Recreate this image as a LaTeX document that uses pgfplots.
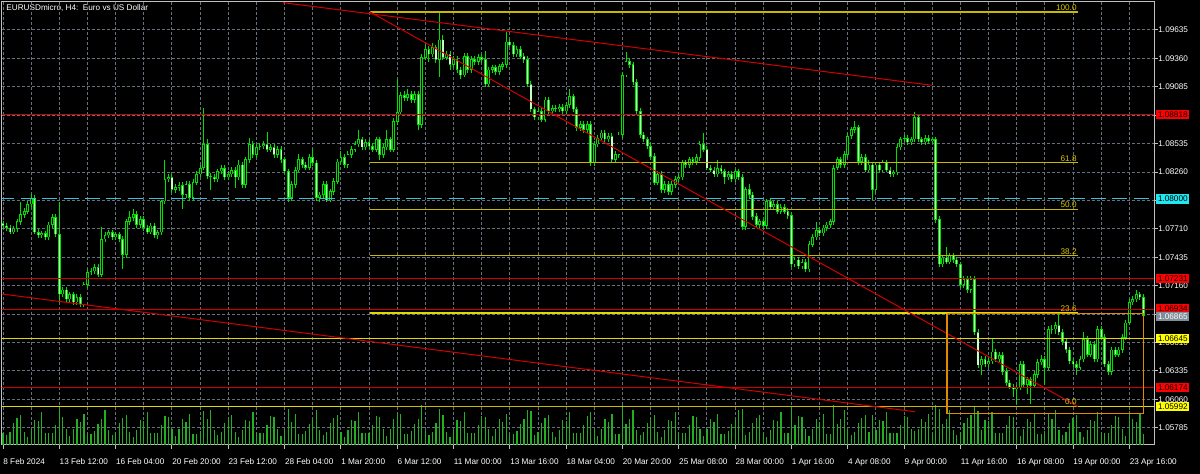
\documentclass[border=0pt]{standalone}
\usepackage{fontspec}
\setmainfont{Liberation Sans}
\usepackage{pgfplots}
\usepackage{pgfplotstable}
\pgfplotsset{compat=1.18}
\definecolor{gridc}{HTML}{66707C}
\definecolor{axc}{HTML}{C0C0C0}
\definecolor{wick}{HTML}{00E000}
\definecolor{bearf}{HTML}{C4FFC4}
\definecolor{volc}{HTML}{22B022}
\definecolor{lred}{HTML}{D00000}
\definecolor{bred}{HTML}{FF0000}
\definecolor{lcyan}{HTML}{38C0D8}
\definecolor{bcyan}{HTML}{20E8F0}
\definecolor{lyel}{HTML}{E0D800}
\definecolor{byel}{HTML}{FFFF00}
\definecolor{fibc}{HTML}{C8B800}
\definecolor{fibt}{HTML}{D8C800}
\definecolor{orng}{HTML}{E08A00}
\definecolor{bgray}{HTML}{7F8C99}
\newcommand\lab{\fontsize{4.1pt}{5pt}\selectfont}

\pgfplotstableread{
i o h l c v
0 1.0776 1.0779 1.0771 1.0774 12
1 1.0774 1.0777 1.0769 1.0772 10
2 1.0772 1.0775 1.0766 1.0768 13
3 1.0768 1.0774 1.0766 1.0771 22
4 1.0771 1.0781 1.0768 1.0778 27
5 1.0778 1.0797 1.0775 1.0785 30
6 1.0785 1.0791 1.0782 1.0788 13
7 1.0788 1.0798 1.0785 1.0795 8
8 1.0795 1.0805 1.0792 1.0801 15
9 1.0801 1.0804 1.0766 1.0768 25
10 1.0768 1.0771 1.0762 1.0765 24
11 1.0765 1.0769 1.0762 1.0767 33
12 1.0767 1.0769 1.0760 1.0763 12
13 1.0763 1.0778 1.0760 1.0775 12
14 1.0775 1.0785 1.0772 1.0782 12
15 1.0782 1.0785 1.0763 1.0766 20
16 1.0766 1.0797 1.0701 1.0708 38
17 1.0708 1.0715 1.0705 1.0712 28
18 1.0712 1.0715 1.0700 1.0703 16
19 1.0703 1.0710 1.0700 1.0708 9
20 1.0708 1.0710 1.0697 1.0700 16
21 1.0700 1.0708 1.0697 1.0705 26
22 1.0705 1.0708 1.0695 1.0698 23
23 1.0698 1.0720 1.0695 1.0717 31
24 1.0717 1.0732 1.0714 1.0729 11
25 1.0729 1.0733 1.0726 1.0730 11
26 1.0730 1.0737 1.0727 1.0734 14
27 1.0734 1.0737 1.0724 1.0727 21
28 1.0727 1.0773 1.0724 1.0761 26
29 1.0761 1.0768 1.0758 1.0765 35
30 1.0765 1.0770 1.0762 1.0768 15
31 1.0768 1.0770 1.0760 1.0763 10
32 1.0763 1.0768 1.0760 1.0766 13
33 1.0766 1.0768 1.0758 1.0761 22
34 1.0761 1.0764 1.0732 1.0746 27
35 1.0746 1.0781 1.0743 1.0778 30
36 1.0778 1.0788 1.0775 1.0782 13
37 1.0782 1.0790 1.0779 1.0785 8
38 1.0785 1.0788 1.0772 1.0775 15
39 1.0775 1.0783 1.0772 1.0780 25
40 1.0780 1.0783 1.0769 1.0772 24
41 1.0772 1.0775 1.0766 1.0768 33
42 1.0768 1.0777 1.0766 1.0774 12
43 1.0774 1.0777 1.0762 1.0765 12
44 1.0765 1.0770 1.0761 1.0768 12
45 1.0768 1.0799 1.0765 1.0798 20
46 1.0798 1.0838 1.0795 1.0819 29
47 1.0819 1.0824 1.0816 1.0821 28
48 1.0821 1.0824 1.0806 1.0809 16
49 1.0809 1.0814 1.0806 1.0811 9
50 1.0811 1.0816 1.0808 1.0813 16
51 1.0813 1.0816 1.0790 1.0804 26
52 1.0804 1.0817 1.0801 1.0814 23
53 1.0814 1.0817 1.0798 1.0801 31
54 1.0801 1.0819 1.0798 1.0816 11
55 1.0816 1.0827 1.0813 1.0824 11
56 1.0824 1.0833 1.0821 1.0830 14
57 1.0830 1.0888 1.0828 1.0853 34
58 1.0853 1.0858 1.0819 1.0822 26
59 1.0822 1.0825 1.0809 1.0821 35
60 1.0821 1.0824 1.0816 1.0819 15
61 1.0819 1.0829 1.0816 1.0827 10
62 1.0827 1.0833 1.0824 1.0830 13
63 1.0830 1.0833 1.0818 1.0821 22
64 1.0821 1.0827 1.0818 1.0824 27
65 1.0824 1.0831 1.0821 1.0828 30
66 1.0828 1.0831 1.0811 1.0821 13
67 1.0821 1.0838 1.0818 1.0833 8
68 1.0833 1.0836 1.0811 1.0814 15
69 1.0814 1.0841 1.0811 1.0838 25
70 1.0838 1.0859 1.0835 1.0853 24
71 1.0853 1.0856 1.0840 1.0843 33
72 1.0843 1.0853 1.0840 1.0850 12
73 1.0850 1.0854 1.0847 1.0851 12
74 1.0851 1.0856 1.0848 1.0853 12
75 1.0853 1.0865 1.0845 1.0848 20
76 1.0848 1.0853 1.0845 1.0850 29
77 1.0850 1.0853 1.0840 1.0843 28
78 1.0843 1.0851 1.0840 1.0848 16
79 1.0848 1.0851 1.0835 1.0838 9
80 1.0838 1.0841 1.0824 1.0827 16
81 1.0827 1.0829 1.0797 1.0801 36
82 1.0801 1.0817 1.0798 1.0814 23
83 1.0814 1.0831 1.0811 1.0828 31
84 1.0828 1.0843 1.0826 1.0838 11
85 1.0838 1.0841 1.0830 1.0833 11
86 1.0833 1.0836 1.0828 1.0830 14
87 1.0830 1.0843 1.0828 1.0840 21
88 1.0840 1.0848 1.0832 1.0835 26
89 1.0835 1.0838 1.0798 1.0801 35
90 1.0801 1.0807 1.0797 1.0804 15
91 1.0804 1.0817 1.0801 1.0814 10
92 1.0814 1.0817 1.0797 1.0799 13
93 1.0799 1.0810 1.0797 1.0807 22
94 1.0807 1.0820 1.0804 1.0817 27
95 1.0817 1.0839 1.0814 1.0836 30
96 1.0836 1.0846 1.0833 1.0840 13
97 1.0840 1.0843 1.0830 1.0833 8
98 1.0833 1.0846 1.0830 1.0843 15
99 1.0843 1.0851 1.0840 1.0848 25
100 1.0848 1.0856 1.0845 1.0853 24
101 1.0853 1.0867 1.0850 1.0858 33
102 1.0858 1.0860 1.0847 1.0850 12
103 1.0850 1.0858 1.0847 1.0855 12
104 1.0855 1.0858 1.0848 1.0851 12
105 1.0851 1.0854 1.0845 1.0848 20
106 1.0848 1.0860 1.0845 1.0858 29
107 1.0858 1.0860 1.0838 1.0843 28
108 1.0843 1.0853 1.0840 1.0850 16
109 1.0850 1.0867 1.0847 1.0858 9
110 1.0858 1.0860 1.0845 1.0848 16
111 1.0848 1.0878 1.0845 1.0875 26
112 1.0875 1.0916 1.0872 1.0884 32
113 1.0884 1.0903 1.0881 1.0900 31
114 1.0900 1.0904 1.0895 1.0898 11
115 1.0898 1.0906 1.0895 1.0901 11
116 1.0901 1.0904 1.0893 1.0896 14
117 1.0896 1.0904 1.0893 1.0901 21
118 1.0901 1.0904 1.0867 1.0872 26
119 1.0872 1.0940 1.0869 1.0937 40
120 1.0937 1.0949 1.0934 1.0945 15
121 1.0945 1.0948 1.0933 1.0940 10
122 1.0940 1.0951 1.0937 1.0947 13
123 1.0947 1.0949 1.0932 1.0935 22
124 1.0935 1.0980 1.0918 1.0954 36
125 1.0954 1.0959 1.0934 1.0937 30
126 1.0937 1.0943 1.0934 1.0940 13
127 1.0940 1.0943 1.0925 1.0930 8
128 1.0930 1.0938 1.0927 1.0935 15
129 1.0935 1.0938 1.0922 1.0925 25
130 1.0925 1.0928 1.0916 1.0920 24
131 1.0920 1.0941 1.0918 1.0938 33
132 1.0938 1.0941 1.0922 1.0925 12
133 1.0925 1.0938 1.0922 1.0935 12
134 1.0935 1.0938 1.0930 1.0933 12
135 1.0933 1.0940 1.0930 1.0937 20
136 1.0937 1.0940 1.0932 1.0935 29
137 1.0935 1.0943 1.0908 1.0911 28
138 1.0911 1.0928 1.0908 1.0925 16
139 1.0925 1.0930 1.0922 1.0927 9
140 1.0927 1.0930 1.0920 1.0923 16
141 1.0923 1.0931 1.0920 1.0928 26
142 1.0928 1.0933 1.0925 1.0930 23
143 1.0930 1.0962 1.0927 1.0952 31
144 1.0952 1.0955 1.0947 1.0949 11
145 1.0949 1.0952 1.0937 1.0940 11
146 1.0940 1.0948 1.0937 1.0945 14
147 1.0945 1.0948 1.0935 1.0938 21
148 1.0938 1.0941 1.0932 1.0935 26
149 1.0935 1.0938 1.0908 1.0911 35
150 1.0911 1.0914 1.0884 1.0887 34
151 1.0887 1.0889 1.0876 1.0879 10
152 1.0879 1.0888 1.0876 1.0885 13
153 1.0885 1.0888 1.0874 1.0877 22
154 1.0877 1.0899 1.0874 1.0896 27
155 1.0896 1.0899 1.0882 1.0885 30
156 1.0885 1.0891 1.0882 1.0888 13
157 1.0888 1.0891 1.0884 1.0887 8
158 1.0887 1.0892 1.0884 1.0889 15
159 1.0889 1.0892 1.0882 1.0885 25
160 1.0885 1.0894 1.0882 1.0891 24
161 1.0891 1.0906 1.0888 1.0899 33
162 1.0899 1.0902 1.0884 1.0887 12
163 1.0887 1.0889 1.0866 1.0869 12
164 1.0869 1.0875 1.0866 1.0872 12
165 1.0872 1.0875 1.0864 1.0867 20
166 1.0867 1.0875 1.0864 1.0872 29
167 1.0872 1.0875 1.0832 1.0835 33
168 1.0835 1.0856 1.0832 1.0853 16
169 1.0853 1.0862 1.0850 1.0859 9
170 1.0859 1.0867 1.0857 1.0864 16
171 1.0864 1.0867 1.0855 1.0858 26
172 1.0858 1.0864 1.0855 1.0861 23
173 1.0861 1.0864 1.0835 1.0838 31
174 1.0838 1.0846 1.0835 1.0843 11
175 1.0843 1.0865 1.0840 1.0862 11
176 1.0862 1.0923 1.0859 1.0920 40
177 1.0920 1.0942 1.0918 1.0933 21
178 1.0933 1.0936 1.0927 1.0930 26
179 1.0930 1.0933 1.0910 1.0913 35
180 1.0913 1.0916 1.0882 1.0885 15
181 1.0885 1.0888 1.0859 1.0862 10
182 1.0862 1.0865 1.0855 1.0858 13
183 1.0858 1.0860 1.0848 1.0851 22
184 1.0851 1.0854 1.0838 1.0841 27
185 1.0841 1.0844 1.0813 1.0816 30
186 1.0816 1.0827 1.0813 1.0824 13
187 1.0824 1.0827 1.0806 1.0809 8
188 1.0809 1.0817 1.0806 1.0814 15
189 1.0814 1.0817 1.0804 1.0807 25
190 1.0807 1.0817 1.0804 1.0814 24
191 1.0814 1.0822 1.0811 1.0819 33
192 1.0819 1.0824 1.0816 1.0821 12
193 1.0821 1.0838 1.0818 1.0835 12
194 1.0835 1.0838 1.0830 1.0833 12
195 1.0833 1.0841 1.0830 1.0838 20
196 1.0838 1.0841 1.0833 1.0836 29
197 1.0836 1.0843 1.0833 1.0840 28
198 1.0840 1.0856 1.0837 1.0853 16
199 1.0853 1.0864 1.0845 1.0848 9
200 1.0848 1.0851 1.0828 1.0830 16
201 1.0830 1.0833 1.0826 1.0828 26
202 1.0828 1.0831 1.0821 1.0824 23
203 1.0824 1.0838 1.0821 1.0830 31
204 1.0830 1.0833 1.0824 1.0827 11
205 1.0827 1.0829 1.0814 1.0821 11
206 1.0821 1.0827 1.0818 1.0824 14
207 1.0824 1.0827 1.0816 1.0819 21
208 1.0819 1.0829 1.0816 1.0827 26
209 1.0827 1.0829 1.0818 1.0821 35
210 1.0821 1.0824 1.0770 1.0773 36
211 1.0773 1.0812 1.0770 1.0809 10
212 1.0809 1.0814 1.0801 1.0804 13
213 1.0804 1.0807 1.0780 1.0783 22
214 1.0783 1.0786 1.0772 1.0775 27
215 1.0775 1.0781 1.0772 1.0778 30
216 1.0778 1.0781 1.0771 1.0774 13
217 1.0774 1.0800 1.0771 1.0798 8
218 1.0798 1.0800 1.0789 1.0792 15
219 1.0792 1.0798 1.0789 1.0795 25
220 1.0795 1.0798 1.0785 1.0788 24
221 1.0788 1.0795 1.0785 1.0792 33
222 1.0792 1.0795 1.0785 1.0788 12
223 1.0788 1.0791 1.0781 1.0784 12
224 1.0784 1.0787 1.0734 1.0737 38
225 1.0737 1.0744 1.0734 1.0741 20
226 1.0741 1.0744 1.0732 1.0735 29
227 1.0735 1.0742 1.0732 1.0739 28
228 1.0739 1.0742 1.0729 1.0732 16
229 1.0732 1.0759 1.0729 1.0756 9
230 1.0756 1.0766 1.0753 1.0763 16
231 1.0763 1.0778 1.0760 1.0770 26
232 1.0770 1.0773 1.0764 1.0767 23
233 1.0767 1.0775 1.0764 1.0772 31
234 1.0772 1.0778 1.0769 1.0775 11
235 1.0775 1.0781 1.0772 1.0778 11
236 1.0778 1.0833 1.0775 1.0830 40
237 1.0830 1.0841 1.0828 1.0838 21
238 1.0838 1.0841 1.0830 1.0833 26
239 1.0833 1.0846 1.0830 1.0843 35
240 1.0843 1.0864 1.0840 1.0861 15
241 1.0861 1.0870 1.0858 1.0867 10
242 1.0867 1.0875 1.0864 1.0869 13
243 1.0869 1.0872 1.0833 1.0836 22
244 1.0836 1.0843 1.0833 1.0840 27
245 1.0840 1.0843 1.0826 1.0828 30
246 1.0828 1.0838 1.0826 1.0833 13
247 1.0833 1.0836 1.0799 1.0809 30
248 1.0809 1.0836 1.0806 1.0833 15
249 1.0833 1.0836 1.0826 1.0828 25
250 1.0828 1.0838 1.0826 1.0835 24
251 1.0835 1.0838 1.0826 1.0828 33
252 1.0828 1.0831 1.0821 1.0824 12
253 1.0824 1.0828 1.0821 1.0826 12
254 1.0826 1.0853 1.0823 1.0850 12
255 1.0850 1.0860 1.0847 1.0858 20
256 1.0858 1.0862 1.0855 1.0859 29
257 1.0859 1.0862 1.0852 1.0855 28
258 1.0855 1.0860 1.0852 1.0858 16
259 1.0858 1.0884 1.0855 1.0879 14
260 1.0879 1.0882 1.0855 1.0858 16
261 1.0858 1.0860 1.0852 1.0855 26
262 1.0855 1.0862 1.0852 1.0859 23
263 1.0859 1.0862 1.0853 1.0856 31
264 1.0856 1.0860 1.0853 1.0858 11
265 1.0858 1.0860 1.0777 1.0780 40
266 1.0780 1.0783 1.0734 1.0737 36
267 1.0737 1.0746 1.0734 1.0743 21
268 1.0743 1.0753 1.0737 1.0739 26
269 1.0739 1.0748 1.0737 1.0745 35
270 1.0745 1.0748 1.0738 1.0741 15
271 1.0741 1.0744 1.0734 1.0737 10
272 1.0737 1.0739 1.0714 1.0717 13
273 1.0717 1.0725 1.0714 1.0722 22
274 1.0722 1.0725 1.0709 1.0712 27
275 1.0712 1.0725 1.0709 1.0722 30
276 1.0722 1.0725 1.0668 1.0671 38
277 1.0671 1.0674 1.0636 1.0639 34
278 1.0639 1.0648 1.0630 1.0645 15
279 1.0645 1.0648 1.0637 1.0640 25
280 1.0640 1.0646 1.0637 1.0643 24
281 1.0643 1.0664 1.0640 1.0652 33
282 1.0652 1.0655 1.0642 1.0645 12
283 1.0645 1.0652 1.0642 1.0649 12
284 1.0649 1.0652 1.0630 1.0633 12
285 1.0633 1.0636 1.0619 1.0622 20
286 1.0622 1.0625 1.0616 1.0618 29
287 1.0618 1.0621 1.0608 1.0616 28
288 1.0616 1.0620 1.0601 1.0618 16
289 1.0618 1.0643 1.0615 1.0640 9
290 1.0640 1.0643 1.0618 1.0620 16
291 1.0620 1.0628 1.0611 1.0625 26
292 1.0625 1.0628 1.0601 1.0619 23
293 1.0619 1.0633 1.0617 1.0630 31
294 1.0630 1.0645 1.0627 1.0642 11
295 1.0642 1.0649 1.0639 1.0645 11
296 1.0645 1.0648 1.0620 1.0637 14
297 1.0637 1.0677 1.0634 1.0674 32
298 1.0674 1.0678 1.0669 1.0674 26
299 1.0674 1.0681 1.0669 1.0678 35
300 1.0678 1.0690 1.0668 1.0671 15
301 1.0671 1.0674 1.0659 1.0662 10
302 1.0662 1.0665 1.0651 1.0654 13
303 1.0654 1.0657 1.0640 1.0643 22
304 1.0643 1.0646 1.0637 1.0640 27
305 1.0640 1.0643 1.0630 1.0637 30
306 1.0637 1.0648 1.0634 1.0645 13
307 1.0645 1.0671 1.0642 1.0664 8
308 1.0664 1.0667 1.0647 1.0649 15
309 1.0649 1.0662 1.0647 1.0659 25
310 1.0659 1.0662 1.0642 1.0645 24
311 1.0645 1.0677 1.0642 1.0674 33
312 1.0674 1.0677 1.0663 1.0666 12
313 1.0666 1.0669 1.0637 1.0640 12
314 1.0640 1.0643 1.0630 1.0633 12
315 1.0633 1.0657 1.0630 1.0654 20
316 1.0654 1.0657 1.0647 1.0649 29
317 1.0649 1.0657 1.0647 1.0654 28
318 1.0654 1.0669 1.0651 1.0666 16
319 1.0666 1.0683 1.0663 1.0680 9
320 1.0680 1.0703 1.0678 1.0700 34
321 1.0700 1.0706 1.0697 1.0703 26
322 1.0703 1.0712 1.0700 1.0708 23
323 1.0708 1.0710 1.0702 1.0705 31
324 1.0705 1.0708 1.0684 1.0687 11
}\data

\begin{document}
\begin{tikzpicture}
\useasboundingbox[fill=black] (0,0) rectangle (600pt,237pt);
\node[anchor=west, text=white, inner sep=0pt, font=\lab] at (3pt,233pt) {EURUSDmicro, H4:\ \ Euro vs US Dollar};
\begin{axis}[
  at={(0.75pt,14.5pt)}, anchor=south west, scale only axis,
  width=576.25pt, height=221.65pt,
  xmin=-0.43, xmax=327, ymin=1.05618, ymax=1.09909,
  axis line style={draw=axc, line width=0.5pt},
  tick style={draw=axc, line width=0.5pt},
  tick align=outside, major tick length=2pt, minor tick length=0pt,
  xtick pos=bottom, ytick pos=right, yticklabel pos=right,
  xtick={0,16,...,320},
  xticklabels={8 Feb 2024,13 Feb 12:00,16 Feb 04:00,20 Feb 20:00,23 Feb 12:00,28 Feb 04:00,1 Mar 20:00,6 Mar 12:00,11 Mar 00:00,13 Mar 16:00,18 Mar 04:00,20 Mar 20:00,25 Mar 08:00,28 Mar 00:00,1 Apr 16:00,4 Apr 08:00,9 Apr 00:00,11 Apr 16:00,16 Apr 08:00,19 Apr 00:00,23 Apr 16:00},
  minor xtick={8,24,...,312},
  ytick={1.05785,1.06060,1.06335,1.06610,1.06885,1.07160,1.07435,1.07710,1.07985,1.08260,1.08535,1.08810,1.09085,1.09360,1.09635},
  yticklabels={1.05785,1.06060,1.06335,1.06610,1.06885,1.07160,1.07435,1.07710,1.07985,1.08260,1.08535,1.08810,1.09085,1.09360,1.09635},
  grid=both,
  major grid style={draw=gridc, line width=0.5pt, dash pattern=on 1.5pt off 1pt},
  minor grid style={draw=gridc, line width=0.5pt, dash pattern=on 1.5pt off 1pt},
  xticklabel style={font=\lab, text=white, anchor=north west, inner sep=0pt, yshift=-4.5pt},
  yticklabel style={font=\lab, text=white, anchor=west, inner sep=0pt},
]
% volumes
\addplot[forget plot, draw=none, mark=none, error bars/.cd, y dir=minus, y explicit, error mark=none,
  error bar style={draw=volc, line width=0.6pt, solid}]
  table[x=i, y expr={1.05618+\thisrow{v}*0.0000968}, y error expr={\thisrow{v}*0.0000968}] {\data};
% wicks
\addplot[forget plot, draw=none, mark=none, error bars/.cd, y dir=minus, y explicit, error mark=none,
  error bar style={draw=wick, line width=0.5pt, solid}]
  table[x=i, y=h, y error expr={\thisrow{h}-\thisrow{l}}] {\data};
% bodies outline
\addplot[forget plot, draw=none, mark=none, error bars/.cd, y dir=minus, y explicit, error mark=none,
  error bar style={draw=wick, line width=1.4pt, solid}]
  table[x=i, y expr={max(\thisrow{o},\thisrow{c})+0.00002}, y error expr={max(abs(\thisrow{o}-\thisrow{c}),0.00001)+0.00004}] {\data};
% bear inner
\addplot[forget plot, draw=none, mark=none, error bars/.cd, y dir=minus, y explicit, error mark=none,
  error bar style={draw=bearf, line width=0.55pt, solid}]
  table[x=i, y expr={\thisrow{o}-0.00006}, y error expr={max(\thisrow{o}-\thisrow{c}-0.00010,0)}] {\data};
% bull inner
\addplot[forget plot, draw=none, mark=none, error bars/.cd, y dir=minus, y explicit, error mark=none,
  error bar style={draw=black, line width=0.55pt, solid}]
  table[x=i, y expr={\thisrow{c}-0.00006}, y error expr={max(\thisrow{c}-\thisrow{o}-0.00010,0)}] {\data};

% horizontal levels
\addplot[forget plot, lred, line width=0.5pt] coordinates {(-1,1.08818) (330,1.08818)};
\addplot[forget plot, lred, line width=0.5pt] coordinates {(-1,1.07231) (330,1.07231)};
\addplot[forget plot, lred, line width=0.5pt] coordinates {(-1,1.06934) (330,1.06934)};
\addplot[forget plot, lred, line width=0.5pt] coordinates {(-1,1.06174) (330,1.06174)};
\addplot[forget plot, lcyan, line width=0.5pt, dash pattern=on 7.5pt off 3.2pt] coordinates {(-1,1.08000) (330,1.08000)};
\addplot[forget plot, lyel, line width=0.5pt] coordinates {(-1,1.06645) (330,1.06645)};
\addplot[forget plot, lyel, line width=0.5pt] coordinates {(-1,1.05992) (330,1.05992)};
% fibonacci levels
\addplot[forget plot, fibc, line width=0.6pt] coordinates {(104.26,1.09810) (305.4,1.09810)};
\addplot[forget plot, fibc, line width=0.6pt] coordinates {(104.26,1.08352) (305.4,1.08352)};
\addplot[forget plot, fibc, line width=0.6pt] coordinates {(104.26,1.07901) (305.4,1.07901)};
\addplot[forget plot, fibc, line width=0.6pt] coordinates {(104.26,1.07450) (305.4,1.07450)};
\addplot[forget plot, lyel, line width=0.8pt] coordinates {(104.26,1.06893) (305.4,1.06893)};
\addplot[forget plot, fibc, line width=0.6pt] coordinates {(104.26,1.05992) (305.4,1.05992)};
% trend lines
\addplot[forget plot, lred, line width=0.5pt] coordinates {(79.5,1.0990) (263.9,1.0910)};
\addplot[forget plot, lred, line width=0.5pt] coordinates {(-0.43,1.0708) (259.1,1.0594)};
\addplot[forget plot, lred, line width=0.5pt] coordinates {(104.26,1.0981) (305.4,1.0599)};
% rectangle
\addplot[forget plot, orng, line width=0.6pt] coordinates {(268.2,1.0689) (324.1,1.0689) (324.1,1.0592) (268.2,1.0592) (268.2,1.0689)};

\node[anchor=south east, text=fibt, font=\lab, inner sep=0.5pt] at (axis cs:305.4,1.09810) {100.0};
\node[anchor=south east, text=fibt, font=\lab, inner sep=0.5pt] at (axis cs:305.4,1.08352) {61.8};
\node[anchor=south east, text=fibt, font=\lab, inner sep=0.5pt] at (axis cs:305.4,1.07901) {50.0};
\node[anchor=south east, text=fibt, font=\lab, inner sep=0.5pt] at (axis cs:305.4,1.07450) {38.2};
\node[anchor=south east, text=fibt, font=\lab, inner sep=0.5pt] at (axis cs:305.4,1.06893) {23.6};
\node[anchor=south east, text=fibt, font=\lab, inner sep=0.5pt] at (axis cs:305.4,1.05992) {0.0};

\coordinate (b1) at (axis cs:327,1.08818);
\coordinate (b2) at (axis cs:327,1.08000);
\coordinate (b3) at (axis cs:327,1.07231);
\coordinate (b4) at (axis cs:327,1.06934);
\coordinate (b5) at (axis cs:327,1.06865);
\coordinate (b6) at (axis cs:327,1.06645);
\coordinate (b7) at (axis cs:327,1.06174);
\coordinate (b8) at (axis cs:327,1.05992);
\end{axis}
\tikzset{pl/.style={anchor=west, font=\lab, inner xsep=0.9pt, inner ysep=0pt, text height=2.95pt, text depth=0pt, minimum height=4.6pt}}
\node[pl, fill=bred, text=black] at ([xshift=0.9pt]b1) {1.08818};
\node[pl, fill=bcyan, text=black] at ([xshift=0.9pt]b2) {1.08000};
\node[pl, fill=bred, text=black] at ([xshift=0.9pt]b3) {1.07231};
\node[pl, fill=bred, text=black] at ([xshift=0.9pt]b4) {1.06934};
\node[pl, fill=bgray, text=white] at ([xshift=0.9pt]b5) {1.06865};
\node[pl, fill=byel, text=black] at ([xshift=0.9pt]b6) {1.06645};
\node[pl, fill=bred, text=black] at ([xshift=0.9pt]b7) {1.06174};
\node[pl, fill=byel, text=black] at ([xshift=0.9pt]b8) {1.05992};
\end{tikzpicture}
\end{document}
